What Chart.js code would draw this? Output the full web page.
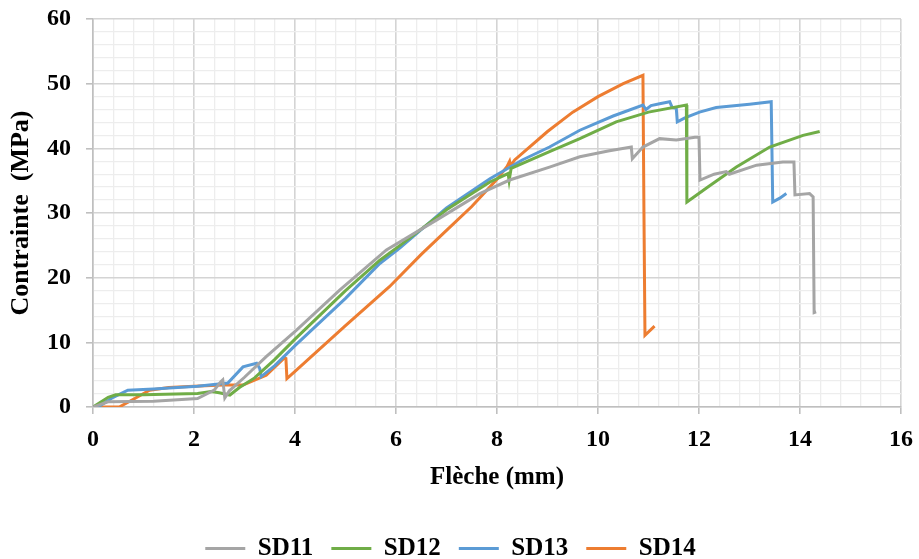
<!DOCTYPE html>
<html>
<head>
<meta charset="utf-8">
<script src="https://cdn.jsdelivr.net/npm/chart.js@4.4.0/dist/chart.umd.min.js"></script>
<style>
  body { margin: 0; background: #fff; }
  #myChart { display: block; }
</style>
</head>
<body>
<canvas id="myChart" width="919" height="559"></canvas>
<script>
// Données (flèche en mm, contrainte en MPa)
const sd11X = [0, 0.3, 1.2, 2.07, 2.4, 2.53, 2.57, 2.61, 2.7, 3.0, 3.43, 4.03, 4.89, 5.81, 6.8, 7.66, 8.25, 9.04, 9.64, 10.2, 10.66, 10.68, 10.89, 11.22, 11.55, 11.92, 12.0, 12.02, 12.3, 12.54, 12.6, 13.14, 13.66, 13.88, 13.9, 14.19, 14.26, 14.28, 14.32];
const sd11Y = [0, 0.8, 0.9, 1.3, 2.6, 3.9, 4.2, 1.4, 2.5, 4.6, 7.8, 11.9, 18.1, 24.3, 28.9, 33.0, 35.1, 37.1, 38.7, 39.6, 40.2, 38.4, 40.2, 41.5, 41.3, 41.7, 41.7, 35.1, 36.0, 36.4, 36.0, 37.4, 37.9, 37.9, 32.8, 33.0, 32.5, 14.6, 14.7];

const sd12X = [0, 0.3, 0.45, 1.0, 2.07, 2.34, 2.5, 2.71, 2.9, 3.2, 3.59, 4.0, 5.0, 5.68, 6.08, 7.0, 7.86, 8.22, 8.24, 8.28, 9.04, 9.64, 10.36, 11.0, 11.75, 11.76, 12.19, 12.74, 13.4, 14.06, 14.39];
const sd12Y = [0, 1.5, 1.9, 1.9, 2.1, 2.4, 2.2, 1.85, 3.0, 4.5, 7.3, 10.5, 18.0, 22.7, 25.0, 30.5, 34.8, 36.1, 35.0, 36.9, 39.5, 41.5, 44.1, 45.6, 46.7, 31.7, 34.1, 37.1, 40.2, 42.0, 42.6];

const sd13X = [0, 0.16, 0.4, 0.69, 1.2, 2.07, 2.67, 2.97, 3.24, 3.3, 3.33, 3.6, 4.0, 5.0, 5.68, 6.08, 7.0, 7.86, 8.5, 9.04, 9.64, 10.3, 10.89, 10.95, 11.05, 11.22, 11.42, 11.47, 11.55, 11.57, 11.72, 12.01, 12.34, 13.0, 13.43, 13.46, 13.6, 13.73];
const sd13Y = [0, 0.3, 1.5, 2.6, 2.8, 3.2, 3.7, 6.2, 6.75, 6.0, 4.7, 6.4, 9.5, 16.8, 22.2, 24.6, 30.8, 35.3, 38.2, 40.2, 42.8, 45.0, 46.7, 46.0, 46.6, 46.9, 47.2, 46.3, 46.2, 44.1, 44.7, 45.6, 46.3, 46.8, 47.2, 31.7, 32.3, 33.0];

const sd14X = [0, 0.52, 0.8, 1.12, 1.5, 2.0, 2.57, 2.97, 3.43, 3.79, 3.82, 3.84, 4.0, 5.0, 5.87, 6.5, 7.0, 7.5, 8.0, 8.2, 8.25, 8.27, 8.35, 9.0, 9.5, 10.0, 10.5, 10.89, 10.91, 10.93, 11.12];
const sd14Y = [0, 0, 1.2, 2.6, 3.0, 3.2, 3.4, 3.4, 4.9, 7.6, 7.5, 4.4, 5.5, 12.6, 18.6, 23.6, 27.3, 31.0, 35.2, 37.2, 38.0, 37.3, 38.2, 42.6, 45.6, 48.0, 50.0, 51.3, 30.0, 11.1, 12.5];

const seriesNames = ['SD11', 'SD12', 'SD13', 'SD14'];
const seriesColors = ['#A5A5A5', '#70AD47', '#5B9BD5', '#ED7D31'];
const seriesX = [sd11X, sd12X, sd13X, sd14X];
const seriesY = [sd11Y, sd12Y, sd13Y, sd14Y];

const xMin = 0, xMax = 16, xMajor = 2, xMinor = 0.4;
const yMin = 0, yMax = 60, yMajor = 10, yMinor = 2;

Chart.defaults.font.family = "'Liberation Serif', 'Times New Roman', serif";
Chart.defaults.color = '#000';

const isMajor = (v, step) => Math.abs(v / step - Math.round(v / step)) < 1e-6;

const datasets = seriesNames.map((name, i) => ({
  label: name,
  data: seriesX[i].map((x, j) => ({ x: x, y: seriesY[i][j] })),
  borderColor: seriesColors[i],
  backgroundColor: seriesColors[i],
  borderWidth: 3,
  pointRadius: 0,
  showLine: true,
  tension: 0
}));

const gridOpts = (step) => ({
  color: (c) => isMajor(c.tick.value, step) ? '#d4d4d4' : '#ededed',
  lineWidth: (c) => isMajor(c.tick.value, step) ? 1.6 : 1.3,
  tickColor: (c) => isMajor(c.tick.value, step) ? '#bfbfbf' : 'rgba(0,0,0,0)',
  tickLength: 7,
  tickWidth: 1.6
});

new Chart(document.getElementById('myChart'), {
  type: 'scatter',
  data: { datasets: datasets },
  options: {
    responsive: false,
    animation: false,
    devicePixelRatio: 1,
    layout: { padding: { top: 19, right: 18, left: 0, bottom: -12 } },
    plugins: {
      tooltip: { enabled: false },
      legend: {
        position: 'bottom',
        labels: {
          font: { size: 25, weight: 'bold' },
          boxWidth: 40,
          boxHeight: 3,
          padding: 18,
          generateLabels: (chart) => Chart.defaults.plugins.legend.labels.generateLabels(chart).map((l) => {
            l.lineWidth = 0;
            return l;
          })
        }
      }
    },
    scales: {
      x: {
        type: 'linear',
        min: xMin,
        max: xMax,
        afterFit: (s) => { s.height = 111; s.paddingLeft = 0; s.paddingRight = 0; },
        border: { color: '#bfbfbf', width: 1.6 },
        grid: gridOpts(xMajor),
        ticks: {
          stepSize: xMinor,
          autoSkip: false,
          maxRotation: 0,
          padding: 11,
          font: { size: 24, weight: 'bold' },
          callback: (v) => isMajor(v, xMajor) ? Math.round(v) : ''
        },
        title: {
          display: true,
          text: 'Flèche (mm)',
          font: { size: 25, weight: 'bold' },
          padding: { top: 4, bottom: 25 }
        }
      },
      y: {
        type: 'linear',
        min: yMin,
        max: yMax,
        afterFit: (s) => { s.width = 93; s.paddingTop = 0; s.paddingBottom = 0; },
        border: { color: '#bfbfbf', width: 1.6 },
        grid: gridOpts(yMajor),
        ticks: {
          stepSize: yMinor,
          autoSkip: false,
          padding: 15,
          font: { size: 24, weight: 'bold' },
          callback: (v) => isMajor(v, yMajor) ? Math.round(v) : ''
        },
        title: {
          display: true,
          text: 'Contrainte  (MPa)',
          font: { size: 26, weight: 'bold' },
          padding: { top: 6, bottom: 0 }
        }
      }
    }
  }
});
</script>
</body>
</html>
